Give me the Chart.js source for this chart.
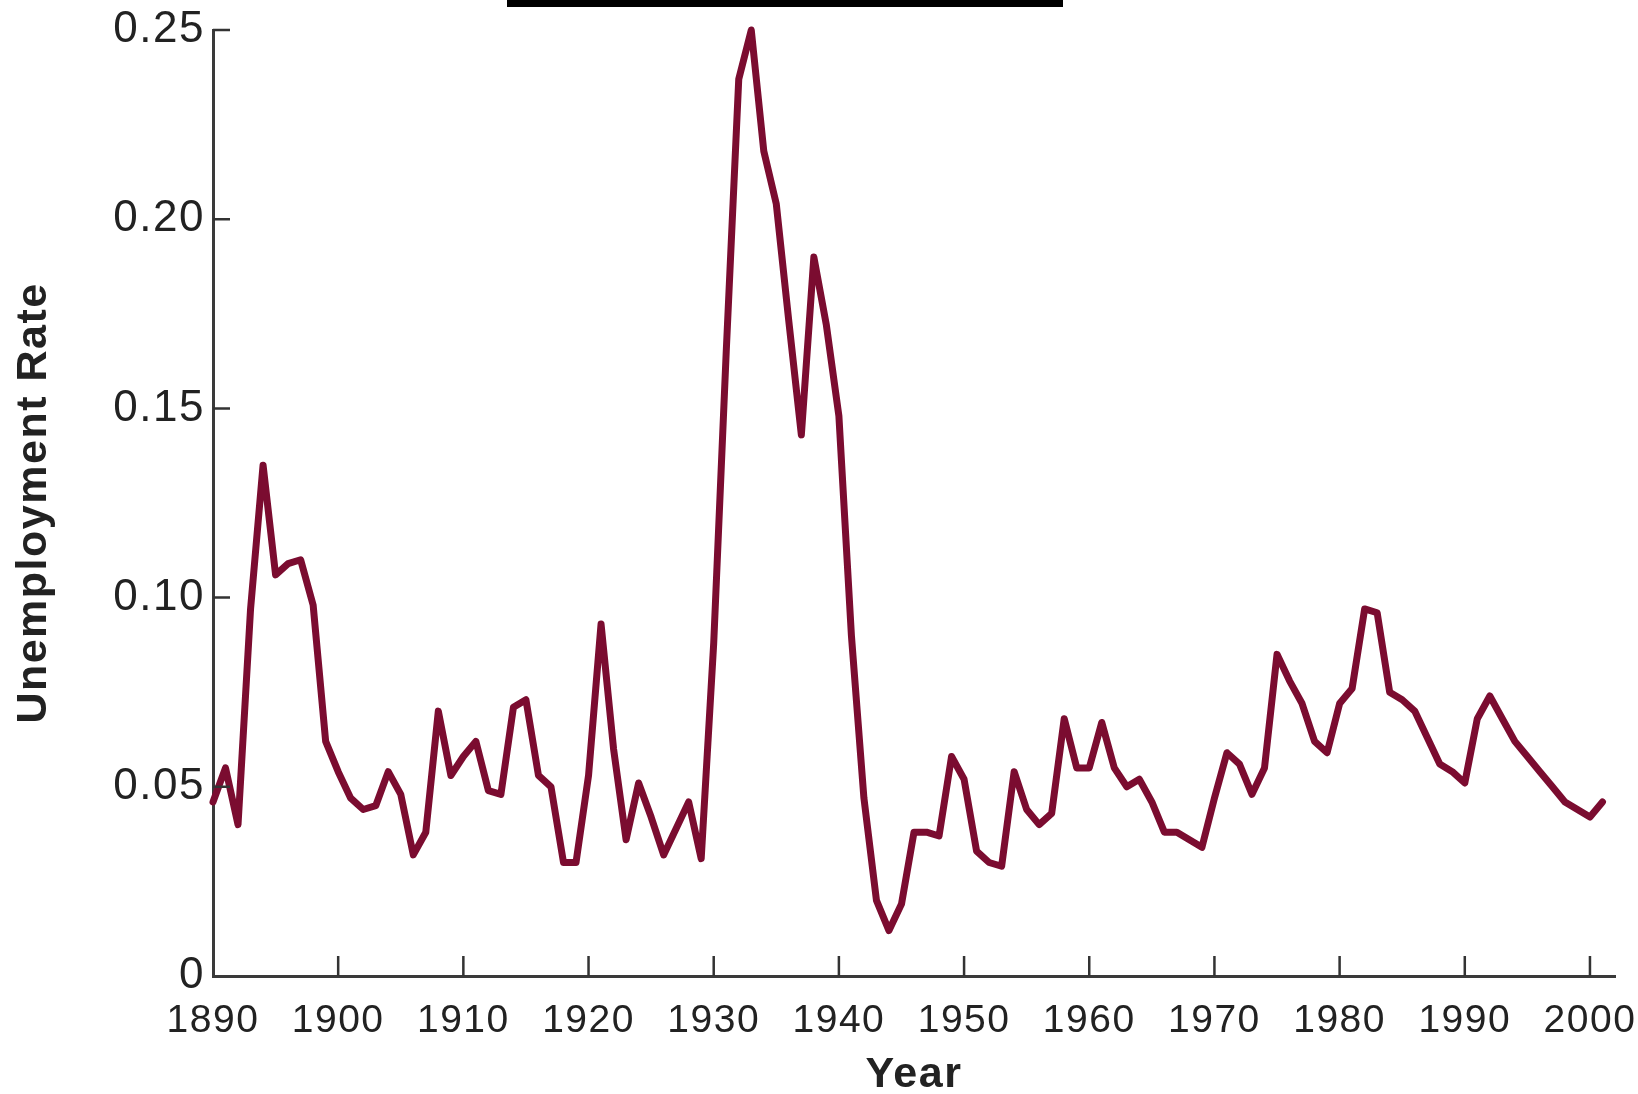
<!DOCTYPE html>
<html><head><meta charset="utf-8">
<script src="https://cdn.jsdelivr.net/npm/chart.js@4.4.1/dist/chart.umd.min.js"></script>
<style>
html,body{margin:0;padding:0;background:#fff;}
#wrap{position:relative;width:1638px;height:1094px;background:#fff;}
#bar{position:absolute;left:507px;top:0;width:556px;height:7px;background:#000;}
canvas{display:block;}
</style></head><body>
<div id="wrap"><canvas id="c" width="1638" height="1094"></canvas><div id="bar"></div></div>
<script>
const years = [1890,1891,1892,1893,1894,1895,1896,1897,1898,1899,
  1900,1901,1902,1903,1904,1905,1906,1907,1908,1909,
  1910,1911,1912,1913,1914,1915,1916,1917,1918,1919,
  1920,1921,1922,1923,1924,1925,1926,1927,1928,1929,
  1930,1931,1932,1933,1934,1935,1936,1937,1938,1939,
  1940,1941,1942,1943,1944,1945,1946,1947,1948,1949,
  1950,1951,1952,1953,1954,1955,1956,1957,1958,1959,
  1960,1961,1962,1963,1964,1965,1966,1967,1968,1969,
  1970,1971,1972,1973,1974,1975,1976,1977,1978,1979,
  1980,1981,1982,1983,1984,1985,1986,1987,1988,1989,
  1990,1991,1992,1993,1994,1995,1996,1997,1998,1999,
  2000,2001];
const unemploymentRate = [0.046,0.055,0.040,0.097,0.135,0.106,0.109,0.110,0.098,0.062,
  0.054,0.047,0.044,0.045,0.054,0.048,0.032,0.038,0.070,0.053,
  0.058,0.062,0.049,0.048,0.071,0.073,0.053,0.050,0.030,0.030,
  0.053,0.093,0.060,0.036,0.051,0.042,0.032,0.039,0.046,0.031,
  0.088,0.165,0.237,0.250,0.218,0.204,0.173,0.143,0.190,0.172,
  0.148,0.090,0.047,0.020,0.012,0.019,0.038,0.038,0.037,0.058,
  0.052,0.033,0.030,0.029,0.054,0.044,0.040,0.043,0.068,0.055,
  0.055,0.067,0.055,0.050,0.052,0.046,0.038,0.038,0.036,0.034,
  0.047,0.059,0.056,0.048,0.055,0.085,0.078,0.072,0.062,0.059,
  0.072,0.076,0.097,0.096,0.075,0.073,0.070,0.063,0.056,0.054,
  0.051,0.068,0.074,0.068,0.062,0.058,0.054,0.050,0.046,0.044,
  0.042,0.046];
const xTickYears = [1890,1900,1910,1920,1930,1940,1950,1960,1970,1980,1990,2000];
const xTickLabels = ['1890','1900','1910','1920','1930','1940','1950','1960','1970','1980','1990','2000'];
const yTickValues = [0,0.05,0.10,0.15,0.20,0.25];
const yTickLabels = ['0','0.05','0.10','0.15','0.20','0.25'];
const xAxisTitle = 'Year';
const yAxisTitle = 'Unemployment Rate';

Chart.defaults.font.family = "'Liberation Sans', Arial, sans-serif";
Chart.defaults.color = '#222';

const textSpacing = {
  id: 'textSpacing',
  beforeDraw(chart) { chart.ctx.letterSpacing = '1.5px'; },
  afterDraw(chart) { chart.ctx.letterSpacing = '0px'; }
};

const innerTicks = {
  id: 'innerTicks',
  afterDraw(chart) {
    const {ctx, chartArea: a, scales: {x, y}} = chart;
    ctx.save();
    ctx.strokeStyle = '#333';
    ctx.lineWidth = 2.5;
    ctx.beginPath();
    y.ticks.forEach(t => {
      if (t.value === y.min) return;
      const py = y.getPixelForValue(t.value);
      ctx.moveTo(a.left, py); ctx.lineTo(a.left + 17, py);
    });
    x.ticks.forEach(t => {
      if (t.value === x.min) return;
      const px = x.getPixelForValue(t.value);
      ctx.moveTo(px, a.bottom); ctx.lineTo(px, a.bottom - 20);
    });
    ctx.stroke();
    ctx.restore();
  }
};

new Chart(document.getElementById('c'), {
  type: 'line',
  data: {
    datasets: [{
      data: years.map((yr, i) => ({x: yr, y: unemploymentRate[i]})),
      borderColor: '#7b0c30',
      borderWidth: 7,
      pointRadius: 0,
      tension: 0,
      borderJoinStyle: 'round',
      borderCapStyle: 'round',
      clip: false
    }]
  },
  options: {
    responsive: false,
    animation: false,
    devicePixelRatio: 1,
    layout: {padding: {left: 0, top: 30, right: 23, bottom: 0}, autoPadding: false},
    plugins: {legend: {display: false}, tooltip: {enabled: false}},
    scales: {
      x: {
        type: 'linear',
        min: 1890, max: 2002,
        afterBuildTicks: s => { s.ticks = xTickYears.map(v => ({value: v})); },
        afterFit: s => { s.height = 118; s.paddingLeft = 0; s.paddingRight = 0; },
        grid: {display: true, drawOnChartArea: false, drawTicks: false},
        border: {display: true, color: '#3a3a3a', width: 3},
        ticks: {
          padding: 22,
          maxRotation: 0,
          autoSkip: false,
          font: {size: 39},
          color: '#222',
          callback: (v, i) => xTickLabels[i]
        },
        title: {
          display: true, text: xAxisTitle, color: '#222',
          font: {size: 43, weight: 'bold', lineHeight: 0.9},
          padding: {top: 0, bottom: 0}
        }
      },
      y: {
        type: 'linear',
        min: 0, max: 0.25,
        afterBuildTicks: s => { s.ticks = yTickValues.map(v => ({value: v})); },
        afterFit: s => { s.width = 213; s.paddingTop = 0; s.paddingBottom = 0; },
        grid: {display: true, drawOnChartArea: false, drawTicks: false},
        border: {display: true, color: '#3a3a3a', width: 3},
        ticks: {
          padding: 8,
          font: {size: 44},
          color: '#222',
          callback: (v, i) => yTickLabels[i]
        },
        title: {
          display: true, text: yAxisTitle, color: '#222',
          font: {size: 43, weight: 'bold', lineHeight: 1.2},
          padding: {top: 8, bottom: 0}
        }
      }
    }
  },
  plugins: [textSpacing, innerTicks]
});
</script>
</body></html>
